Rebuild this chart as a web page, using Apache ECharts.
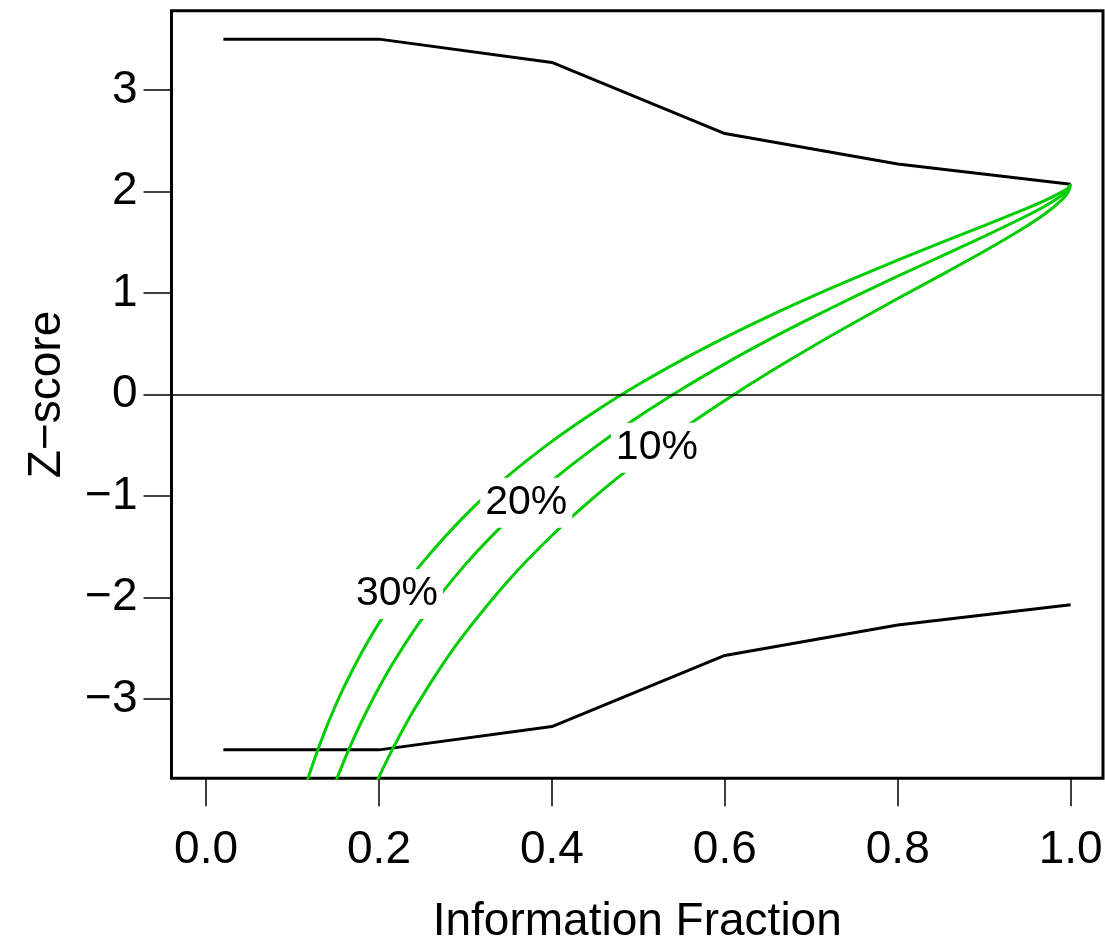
<!DOCTYPE html>
<html>
<head>
<meta charset="utf-8">
<script src="https://cdn.jsdelivr.net/npm/echarts@6/dist/echarts.min.js"></script>
<style>
html,body{margin:0;padding:0;background:#fff;}
#chart{width:1105px;height:939px;}
</style>
</head>
<body>
<div id="chart"></div>
<script>
// ---- data ----
const boundT = [0.02, 0.2, 0.4, 0.6, 0.8, 1.0];
const upperZ = [3.5, 3.5, 3.27, 2.57, 2.27, 2.07];
const lowerZ = [-3.5, -3.5, -3.27, -2.57, -2.27, -2.07];

const cp30T = [0.115, 0.12, 0.13, 0.14, 0.15, 0.16, 0.18, 0.2, 0.22, 0.25, 0.3, 0.35, 0.4, 0.45, 0.5, 0.55, 0.6, 0.65, 0.7, 0.75, 0.8, 0.85, 0.9, 0.94, 0.97, 0.99, 0.997, 1.0];
const cp30Z = [-3.858, -3.726, -3.482, -3.260, -3.058, -2.873, -2.541, -2.252, -1.995, -1.658, -1.188, -0.797, -0.462, -0.167, 0.098, 0.339, 0.561, 0.768, 0.962, 1.146, 1.323, 1.495, 1.664, 1.801, 1.910, 1.995, 2.035, 2.07];

const cp20T = [0.15, 0.16, 0.17, 0.18, 0.2, 0.22, 0.25, 0.3, 0.35, 0.4, 0.45, 0.5, 0.55, 0.6, 0.65, 0.7, 0.75, 0.8, 0.85, 0.9, 0.94, 0.97, 0.99, 0.997, 1.0];
const cp20Z = [-3.813, -3.599, -3.402, -3.218, -2.886, -2.593, -2.208, -1.673, -1.230, -0.850, -0.518, -0.219, 0.052, 0.302, 0.535, 0.754, 0.963, 1.165, 1.361, 1.558, 1.721, 1.854, 1.963, 2.017, 2.07];

const cp10T = [0.19, 0.2, 0.21, 0.22, 0.24, 0.27, 0.3, 0.35, 0.4, 0.45, 0.5, 0.55, 0.6, 0.65, 0.7, 0.75, 0.8, 0.85, 0.9, 0.94, 0.97, 0.99, 0.997, 1.0];
const cp10Z = [-3.955, -3.766, -3.589, -3.421, -3.113, -2.704, -2.345, -1.829, -1.389, -1.004, -0.659, -0.346, -0.058, 0.212, 0.466, 0.709, 0.945, 1.176, 1.411, 1.610, 1.777, 1.919, 1.993, 2.07];

const curveLabels = ['30%', '20%', '10%'];
const labelT = [0.2208, 0.3703, 0.5214];
const labelZ = [-1.966, -1.066, -0.524];

const xTicks = [0, 0.2, 0.4, 0.6, 0.8, 1.0];
const xTickLabels = ['0.0', '0.2', '0.4', '0.6', '0.8', '1.0'];
const yTicks = [-3, -2, -1, 0, 1, 2, 3];
const yTickLabels = ['\u22123', '\u22122', '\u22121', '0', '1', '2', '3'];

const xTitle = 'Information Fraction';
const yTitle = 'Z\u2212score';

// ---- chart ----
const FONT = "'Liberation Sans', Arial, Helvetica, sans-serif";
const zip = (a, b) => a.map((v, i) => [v, b[i]]);
const green = '#00cd00';

const chart = echarts.init(document.getElementById('chart'), null, {renderer: 'canvas'});
const lineBase = {type: 'line', showSymbol: false, symbol: 'none', clip: true, animation: false};

chart.setOption({
  animation: false,
  backgroundColor: '#fff',
  grid: {left: 171.5, right: 2, top: 10.7, bottom: 160.7, show: true, borderColor: '#000', borderWidth: 3,
    backgroundColor: 'transparent', containLabel: false, outerBoundsMode: 'none'},
  xAxis: {
    type: 'value', min: -0.04, max: 1.0374,
    splitLine: {show: false},
    axisLine: {show: false, onZero: false},
    axisTick: {show: true, inside: false, customValues: xTicks, length: 28, lineStyle: {color: '#000', width: 1.5}},
    axisLabel: {customValues: xTicks, margin: 49, color: '#000', fontSize: 46, fontFamily: FONT,
      formatter: v => xTickLabels[xTicks.findIndex(t => Math.abs(t - v) < 1e-6)] ?? ''},
    name: xTitle, nameLocation: 'middle', nameGap: 121,
    nameTextStyle: {color: '#000', fontSize: 46, fontFamily: FONT}
  },
  yAxis: {
    type: 'value', min: -3.78, max: 3.78,
    splitLine: {show: false},
    axisLine: {show: false, onZero: false},
    axisTick: {show: true, inside: false, customValues: yTicks, length: 28, lineStyle: {color: '#000', width: 1.5}},
    axisLabel: {customValues: yTicks, margin: 34, color: '#000', fontSize: 46, fontFamily: FONT,
      formatter: v => yTickLabels[yTicks.findIndex(t => Math.abs(t - v) < 1e-6)] ?? ''},
    name: yTitle, nameLocation: 'middle', nameGap: 101,
    nameTextStyle: {color: '#000', fontSize: 46, fontFamily: FONT}
  },
  series: [
    Object.assign({}, lineBase, {name: 'upper', data: zip(boundT, upperZ), lineStyle: {color: '#000', width: 3}, z: 3,
      markLine: {silent: true, symbol: 'none', label: {show: false}, lineStyle: {color: '#000', width: 1.5, type: 'solid'}, data: [{yAxis: 0}]}}),
    Object.assign({}, lineBase, {name: 'lower', data: zip(boundT, lowerZ), lineStyle: {color: '#000', width: 3}, z: 3}),
    Object.assign({}, lineBase, {name: '30%', data: zip(cp30T, cp30Z), smooth: 0.3, lineStyle: {color: green, width: 3}, z: 4}),
    Object.assign({}, lineBase, {name: '20%', data: zip(cp20T, cp20Z), smooth: 0.3, lineStyle: {color: green, width: 3}, z: 4}),
    Object.assign({}, lineBase, {name: '10%', data: zip(cp10T, cp10Z), smooth: 0.3, lineStyle: {color: green, width: 3}, z: 4}),
    {
      type: 'scatter', name: 'labels', symbolSize: 0, z: 10, animation: false,
      itemStyle: {opacity: 1},
      emphasis: {disabled: true},
      data: labelT.map((t, i) => ({value: [t, labelZ[i]], name: curveLabels[i]})),
      label: {show: true, position: 'inside', formatter: p => p.name, color: '#000', opacity: 1, fontSize: 41, fontFamily: FONT,
        backgroundColor: '#fff', padding: [4, 5], lineHeight: 42}
    }
  ]
});
</script>
</body>
</html>
